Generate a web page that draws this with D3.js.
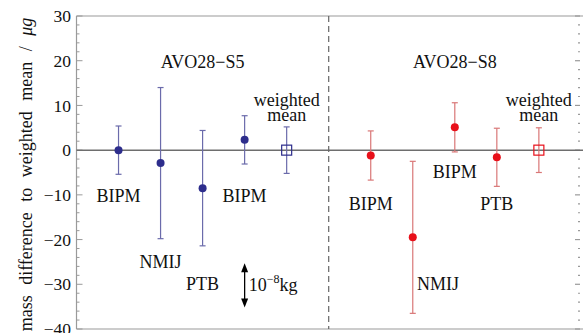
<!DOCTYPE html>
<html><head><meta charset="utf-8">
<script src="https://cdn.jsdelivr.net/npm/d3@7"></script>
<style>
html,body{margin:0;padding:0;background:#fff;}
svg text{font-family:"Liberation Serif","Times New Roman",serif;fill:#111;}
</style></head>
<body><svg id="c" width="583" height="333"></svg>
<script>
// ---- data ----
const s5Labels = ["BIPM", "NMIJ", "PTB", "BIPM"];
const s5Values = [0.0, -2.9, -8.5, 2.3];
const s5Errors = [5.4, 16.9, 12.9, 5.4];
const s5Mean = 0.0, s5MeanErr = 5.2;
const s8Labels = ["BIPM", "NMIJ", "BIPM", "PTB"];
const s8Values = [-1.2, -19.5, 5.1, -1.6];
const s8Errors = [5.5, 17.0, 5.5, 6.5];
const s8Mean = 0.0, s8MeanErr = 5.0;
const yTicks = [-40, -30, -20, -10, 0, 10, 20, 30];
const groupTitles = ["AVO28\u2212S5", "AVO28\u2212S8"];

// ---- layout ----
const svg = d3.select("#c");
const x = d3.scaleLinear().domain([-1, 11.05]).range([76.5, 583]);
const y = d3.scaleLinear().domain([-40, 30]).range([329, 16]);
const blue = "#2d2d8c", blueBar = "#6b6bab";
const red = "#e8101a", redBar = "#d97777";

// frame
const frame = svg.append("g").attr("stroke", "#9a9a9a").attr("stroke-width", 1.2).attr("fill", "none");
frame.append("line").attr("x1", x.range()[0]).attr("x2", x.range()[1]).attr("y1", y(30)).attr("y2", y(30));
frame.append("line").attr("x1", x.range()[0]).attr("x2", x.range()[1]).attr("y1", y(-40)).attr("y2", y(-40));
frame.append("line").attr("x1", x.range()[0]).attr("x2", x.range()[0]).attr("y1", y(30)).attr("y2", y(-40));

// ticks (left & right, inward)
const minor = d3.range(-40, 30.01, 2);
minor.forEach(v => {
  const major = v % 10 === 0;
  const len = major ? 6 : 3;
  svg.append("line").attr("x1", x.range()[0]).attr("x2", x.range()[0] + len)
    .attr("y1", y(v)).attr("y2", y(v)).attr("stroke", "#9a9a9a").attr("stroke-width", 1);
  svg.append("line").attr("x1", 580).attr("x2", 580 - len + 1)
    .attr("y1", y(v)).attr("y2", y(v)).attr("stroke", "#9a9a9a").attr("stroke-width", 1.2);
});
svg.append("g").selectAll("text").data(yTicks).join("text")
  .attr("x", 71).attr("y", d => y(d)).attr("dy", "0.35em")
  .attr("text-anchor", "end").attr("font-size", 17.5)
  .text(d => d < 0 ? "\u2212" + Math.abs(d) : d);

// y label
svg.append("text").attr("transform", `translate(32,${(y(30)+y(-40))/2 + 2}) rotate(-90)`)
  .attr("text-anchor", "middle").attr("font-size", 18).attr("word-spacing", "6px")
  .html('mass difference to weighted mean / <tspan font-style="italic">\u03bcg</tspan>');

// zero line
svg.append("line").attr("x1", x.range()[0]).attr("x2", x.range()[1])
  .attr("y1", y(0)).attr("y2", y(0)).attr("stroke", "#6e6e6e").attr("stroke-width", 1.5);

// divider
svg.append("line").attr("x1", x(5)).attr("x2", x(5)).attr("y1", y(30)).attr("y2", y(-40))
  .attr("stroke", "#666").attr("stroke-width", 1.2).attr("stroke-dasharray", "6,4");

function drawGroup(values, errors, mean, meanErr, offset, col, barCol) {
  const pts = values.map((v, i) => ({i: i + offset, v, e: errors[i]}));
  const all = pts.concat([{i: offset + 4, v: mean, e: meanErr, mean: true}]);
  const g = svg.append("g");
  g.selectAll("line.bar").data(all).join("line").attr("class", "bar")
    .attr("x1", d => x(d.i)).attr("x2", d => x(d.i))
    .attr("y1", d => y(d.v + d.e)).attr("y2", d => y(d.v - d.e))
    .attr("stroke", barCol).attr("stroke-width", 1.2);
  ["+", "-"].forEach(s => {
    g.selectAll("line.cap" + (s === "+" ? "t" : "b")).data(all).join("line")
      .attr("x1", d => x(d.i) - 3).attr("x2", d => x(d.i) + 3)
      .attr("y1", d => y(s === "+" ? d.v + d.e : d.v - d.e))
      .attr("y2", d => y(s === "+" ? d.v + d.e : d.v - d.e))
      .attr("stroke", barCol).attr("stroke-width", 1.2);
  });
  g.selectAll("circle").data(pts).join("circle")
    .attr("cx", d => x(d.i)).attr("cy", d => y(d.v)).attr("r", 4).attr("fill", col);
  g.append("rect").attr("x", x(offset + 4) - 5).attr("y", y(mean) - 5)
    .attr("width", 10).attr("height", 10).attr("fill", "none").attr("stroke", col).attr("stroke-width", 1.2);
}
drawGroup(s5Values, s5Errors, s5Mean, s5MeanErr, 0, blue, blueBar);
drawGroup(s8Values, s8Errors, s8Mean, s8MeanErr, 6, red, redBar);

// annotations (label positions in data units)
const fs = 18;
const s5LabelPos = [[0, -11.5], [1, -26.4], [2, -31.3], [3, -11.5]];
const s8LabelPos = [[6, -13.4], [7.6, -31.3], [8, -6.3], [9, -13.4]];
const lab = svg.append("g").attr("font-size", fs).attr("text-anchor", "middle");
s5Labels.forEach((t, k) => lab.append("text").attr("x", x(s5LabelPos[k][0])).attr("y", y(s5LabelPos[k][1])).text(t));
s8Labels.forEach((t, k) => lab.append("text").attr("x", x(s8LabelPos[k][0])).attr("y", y(s8LabelPos[k][1])).text(t));
lab.append("text").attr("x", x(2)).attr("y", y(18.4)).text(groupTitles[0]);
lab.append("text").attr("x", x(8)).attr("y", y(18.4)).text(groupTitles[1]);
[4, 10].forEach(i => {
  lab.append("text").attr("x", x(i)).attr("y", y(9.9)).text("weighted");
  lab.append("text").attr("x", x(i)).attr("y", y(6.6)).text("mean");
});

// scale arrow: 10 µg = 1e-8 kg
const ax = x(3);
const arr = svg.append("g");
arr.append("line").attr("x1", ax).attr("x2", ax).attr("y1", y(-25.3) + 6).attr("y2", y(-35.2) - 6)
  .attr("stroke", "#000").attr("stroke-width", 1.3);
arr.append("path").attr("d", `M${ax},${y(-25.3)} l-3.5,9 l7,0 z`).attr("fill", "#000");
arr.append("path").attr("d", `M${ax},${y(-35.2)} l-3.5,-9 l7,0 z`).attr("fill", "#000");
const t = svg.append("text").attr("x", ax + 4).attr("y", y(-31.6)).attr("font-size", fs);
t.append("tspan").text("10");
t.append("tspan").attr("font-size", 12).attr("dy", -8).text("\u22128");
t.append("tspan").attr("dy", 8).text("kg");
</script></body></html>
